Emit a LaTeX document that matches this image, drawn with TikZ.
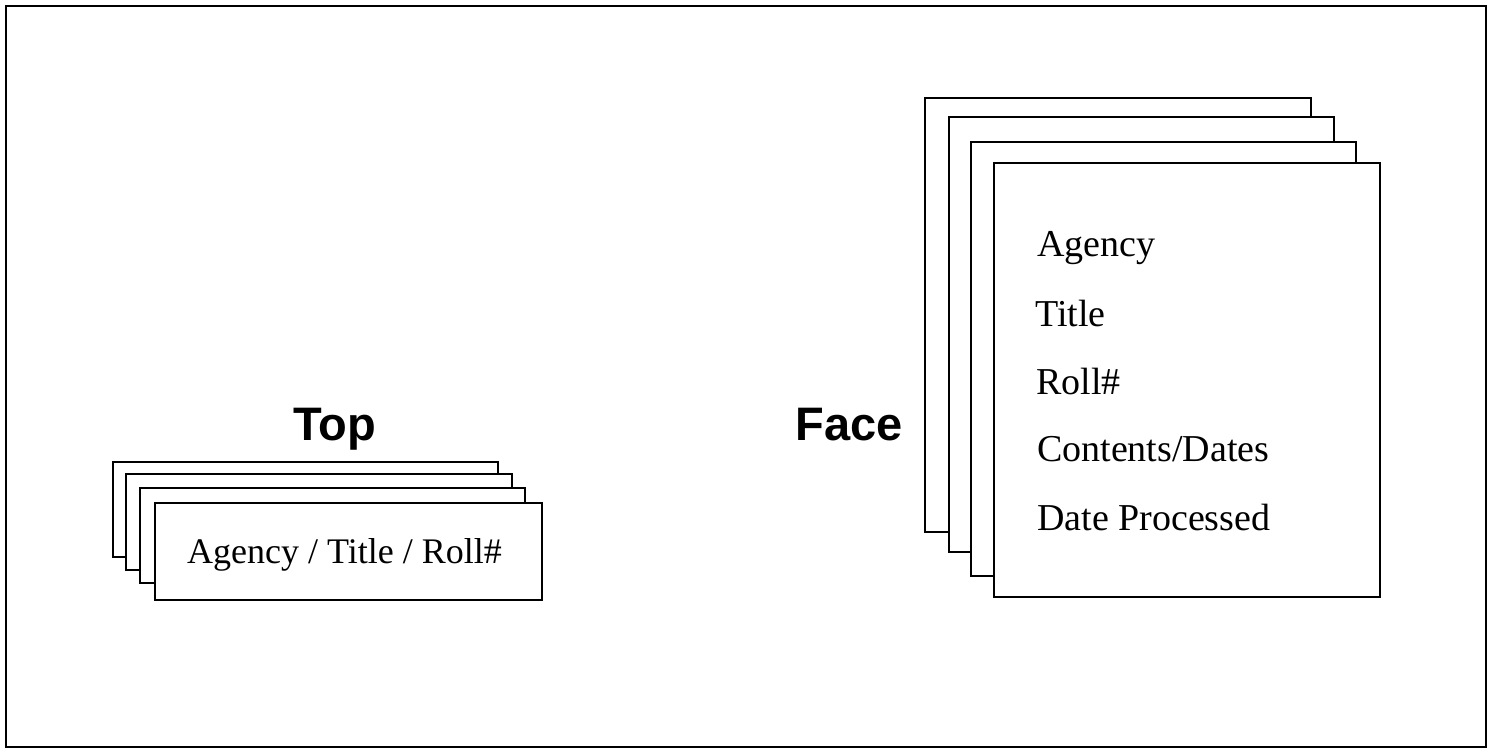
\documentclass[tikz,border=0pt]{standalone}
\usepackage{fontspec}
\setmainfont{Liberation Serif}
\newfontfamily\arialfont{Liberation Sans}
\tikzset{
  card/.style={draw=black, fill=white, line width=2.2pt, inner sep=0pt, outer sep=0pt, anchor=north west},
  bodytext/.style={anchor=base west, inner sep=0pt, font=\fontsize{38}{40}\selectfont},
  lefttext/.style={anchor=base west, inner sep=0pt, font=\fontsize{36}{40}\selectfont},
  heading/.style={anchor=base, inner sep=0pt, font=\arialfont\bfseries\fontsize{47}{50}\selectfont}
}
\begin{document}
\begin{tikzpicture}[x=1pt,y=-1pt]
\useasboundingbox (0,0) rectangle (1495,749);
\node[draw=black, line width=2pt, inner sep=0pt, anchor=north west, minimum width=1480.5pt, minimum height=740.5pt] (frame) at (4.5,5.5) {};
% left stack
\node[card, minimum width=385.3pt, minimum height=95.3pt] (l1) at (112.7,461.7) {};
\node[card, minimum width=385.7pt, minimum height=95.7pt] (l2) at (126,474.3) {};
\node[card, minimum width=385pt, minimum height=94.7pt] (l3) at (140,488.3) {};
\node[card, minimum width=386.7pt, minimum height=96.7pt] (l4) at (155,503.3) {};
\node[lefttext] (ltext) at (187,563.3) {Agency / Title / Roll\#};
% right stack
\node[card, minimum width=386pt, minimum height=434pt] (r1) at (925,98.3) {};
\node[card, minimum width=385pt, minimum height=434.4pt] (r2) at (949.3,117.3) {};
\node[card, minimum width=385.3pt, minimum height=434pt] (r3) at (970.7,141.7) {};
\node[card, minimum width=385.7pt, minimum height=433.4pt] (r4) at (994.3,163.3) {};
\node[bodytext] (agency) at (1037,256) {Agency};
\node[bodytext] (title) at (1035,326) {Title};
\node[bodytext] (roll) at (1036,394) {Roll\#};
\node[bodytext] (contents) at (1037,461.7) {Contents/Dates};
\node[bodytext] (processed) at (1037,530) {Date Processed};
% headings
\node[heading] (top) at (334.7,440) {Top};
\node[heading] (face) at (849,440) {Face};
\end{tikzpicture}
\end{document}
